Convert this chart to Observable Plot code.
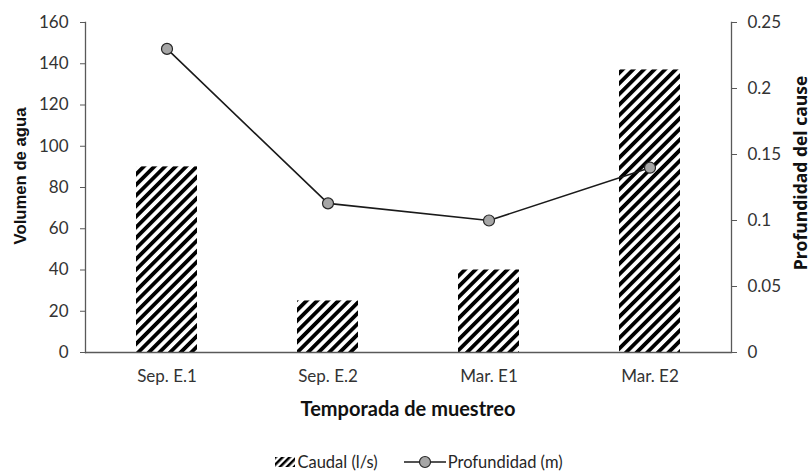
<!DOCTYPE html>
<html>
<head>
<meta charset="utf-8">
<script src="https://cdn.jsdelivr.net/npm/d3@7"></script>
<script src="https://cdn.jsdelivr.net/npm/@observablehq/plot@0.6"></script>
<style>
  html, body { margin: 0; padding: 0; background: #fff; }
  #chart { width: 812px; }
  .legend { display: flex; justify-content: center; align-items: center; height: 30px; margin-top: 7px; padding-left: 26px;
    font-family: Lato, "Open Sans", sans-serif; font-size: 16.5px; color: #262626; }
  .legend .item { display: flex; align-items: center; margin: 0 13px; }
  .legend svg { display: block; margin-right: 2px; }
</style>
</head>
<body>
<div id="chart"></div>
<script>
const categories = ["Sep. E.1", "Sep. E.2", "Mar. E1", "Mar. E2"];
const caudal = [90, 25, 40, 137];
const profundidad = [0.23, 0.113, 0.1, 0.14];
const volumenTicks = [0, 20, 40, 60, 80, 100, 120, 140, 160];
const profundidadTicks = [0, 0.05, 0.1, 0.15, 0.2, 0.25];
const volumenMax = 160;
const profundidadMax = 0.25;
const k = volumenMax / profundidadMax;

const data = categories.map((c, i) => ({cat: c, caudal: caudal[i], prof: profundidad[i]}));

const axisColor = "#595959";
const plot = Plot.plot({
  width: 812,
  height: 440,
  marginLeft: 85,
  marginRight: 81,
  marginTop: 22,
  marginBottom: 88,
  style: {fontFamily: "Lato, 'Open Sans', sans-serif", fontSize: "17px", color: "#333", background: "white", overflow: "visible"},
  x: {domain: categories, paddingInner: 0.62, paddingOuter: 0.31, label: null},
  y: {domain: [0, volumenMax], label: null},
  marks: [
    Plot.barY(data, {x: "cat", y: "caudal", fill: "url(#hatch)"}),
    Plot.axisY({anchor: "left", ticks: volumenTicks, tickSize: 5, tickPadding: 12, label: null, stroke: axisColor}),
    Plot.axisY({anchor: "right", ticks: profundidadTicks.map(d => d * k), tickSize: 5, tickPadding: 11, label: null, stroke: axisColor,
      tickFormat: d => String(Math.round(d / k * 100) / 100)}),
    Plot.axisX({tickSize: 0, tickPadding: 17, label: null}),
    Plot.ruleY([0], {stroke: axisColor, strokeWidth: 1.5}),
    Plot.frame({anchor: "left", stroke: axisColor, strokeWidth: 1.3}),
    Plot.frame({anchor: "right", stroke: axisColor, strokeWidth: 1.3}),
    Plot.line(data, {x: "cat", y: d => d.prof * k, stroke: "#1a1a1a", strokeWidth: 1.6}),
    Plot.dot(data, {x: "cat", y: d => d.prof * k, r: 5.5, fill: "#a6a6a6", stroke: "#262626", strokeWidth: 1.2})
  ]
});

const svg = d3.select(plot);
const defs = svg.insert("defs", ":first-child");
const pat = defs.append("pattern").attr("id", "hatch").attr("patternUnits", "userSpaceOnUse")
  .attr("width", 7.5).attr("height", 7.5).attr("patternTransform", "rotate(45)");
pat.append("rect").attr("width", 7.5).attr("height", 7.5).attr("fill", "#fff");
pat.append("rect").attr("width", 3.8).attr("height", 7.5).attr("fill", "#000");

// Axis titles
svg.append("text").text("Volumen de agua")
  .attr("transform", "translate(20,176) rotate(-90)")
  .attr("text-anchor", "middle").attr("dominant-baseline", "central")
  .attr("font-family", "'Liberation Sans', Arial, sans-serif").attr("font-weight", "bold")
  .attr("font-size", 16.7).attr("fill", "#111");
svg.append("text").text("Profundidad del cause")
  .attr("transform", "translate(800,173) rotate(-90)")
  .attr("text-anchor", "middle").attr("dominant-baseline", "central")
  .attr("font-family", "'Open Sans', sans-serif").attr("font-weight", "bold")
  .attr("font-size", 17.5).attr("fill", "#111");
svg.append("text").text("Temporada de muestreo")
  .attr("x", 408).attr("y", 408)
  .attr("text-anchor", "middle").attr("dominant-baseline", "central")
  .attr("font-family", "Lato, sans-serif").attr("font-weight", "bold")
  .attr("font-size", 20).attr("fill", "#111");

document.getElementById("chart").appendChild(plot);

const legend = document.createElement("div");
legend.className = "legend";
legend.innerHTML = `
  <div class="item">
    <svg width="20" height="12"><defs><pattern id="hatchL" patternUnits="userSpaceOnUse" width="5" height="5" patternTransform="rotate(45)"><rect width="5" height="5" fill="#fff"/><rect width="2.5" height="5" fill="#000"/></pattern></defs><rect x="0" y="1" width="20" height="10" fill="url(#hatchL)"/></svg>
    <span>Caudal (l/s)</span>
  </div>
  <div class="item">
    <svg width="42" height="14"><line x1="0" y1="7" x2="42" y2="7" stroke="#1a1a1a" stroke-width="1.6"/><circle cx="21" cy="7" r="5.5" fill="#a6a6a6" stroke="#262626" stroke-width="1.2"/></svg>
    <span>Profundidad (m)</span>
  </div>`;
document.getElementById("chart").appendChild(legend);
</script>
</body>
</html>
